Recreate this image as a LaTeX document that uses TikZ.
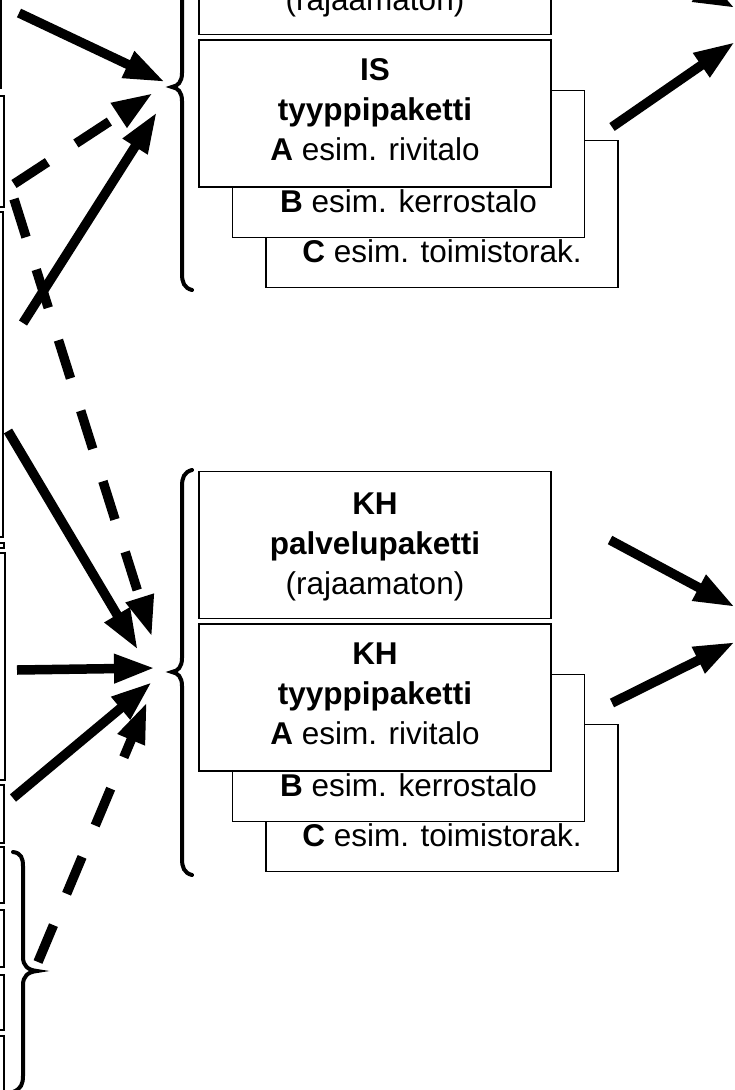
\documentclass[tikz,border=0pt]{standalone}
\usepackage{fontspec}
\setmainfont{Liberation Sans}
\usetikzlibrary{arrows.meta,calc}

\begin{document}
\begin{tikzpicture}[x=1pt,y=-1pt,
  box/.style={draw=black, line width=1.6pt, fill=white, minimum width=352pt,
    minimum height=147pt, inner sep=0pt, align=center,
    font=\fontsize{31.5}{40}\selectfont},
  typebox/.style={box, text depth=7.5pt},
  servbox/.style={box, text depth=2pt},
  lbl/.style={anchor=base, inner sep=0pt, font=\fontsize{31.5}{40}\selectfont},
  stub/.style={draw=black, line width=1.4pt},
  arr/.style={line width=9.5pt, -{Triangle[length=41pt,width=27pt]}},
  darr/.style={arr, dash pattern=on 40pt off 34pt},
  bracepath/.style={line width=4pt, line cap=round},
  lbrace/.pic={\draw[bracepath] (10,-202) .. controls (2,-200) and (0,-194) .. (0,-186)
      -- (0,-14) .. controls (0,-5) and (-4,-1) .. (-10,0)
      .. controls (-4,1) and (0,5) .. (0,14)
      -- (0,187) .. controls (0,195) and (2,201) .. (10,203);},
  rbrace/.pic={\draw[bracepath] (-10,-119) .. controls (-2,-118) and (0,-113) .. (0,-105)
      -- (0,-14) .. controls (0,-5) and (5,-1) .. (14,0)
      .. controls (5,1) and (0,5) .. (0,14)
      -- (0,105) .. controls (0,113) and (-2,118) .. (-10,121);}
]
\useasboundingbox (0,0) rectangle (735,1090);
\clip (0,0) rectangle (735,1090);

% boxes at the left edge
\draw[stub] (-60,-20) rectangle (1,88);
\draw[stub] (-60,96) rectangle (4,207);
\draw[stub] (-60,212) rectangle (3,537);
\draw[stub] (-60,543) rectangle (4,548);
\draw[stub] (-60,553) rectangle (5,780);
\draw[stub] (-60,785) rectangle (4,843);
\draw[stub] (-60,847) rectangle (4,903);
\draw[stub] (-60,910) rectangle (4,967);
\draw[stub] (-60,975) rectangle (4,1030);
\draw[stub] (-60,1036) rectangle (4,1120);

% IS packages
\node[servbox] (isP) at (375,-39) {\textbf{IS}\\\textbf{palvelupaketti}\\(rajaamaton)};
\node[box] (isC) at (442,214) {};
\node[lbl] (isCt) at ($(isC.south)+(0,-25.5)$) {\textbf{C} esim. toimistorak.};
\node[box] (isB) at (408.5,164) {};
\node[lbl] (isBt) at ($(isB.south)+(0,-26)$) {\textbf{B} esim. kerrostalo};
\node[typebox] (isA) at (375,113.5) {\textbf{IS}\\\textbf{tyyppipaketti}\\\textbf{A} esim. rivitalo};

% KH packages
\node[servbox] (khP) at (375,545) {\textbf{KH}\\\textbf{palvelupaketti}\\(rajaamaton)};
\node[box] (khC) at (442,798) {};
\node[lbl] (khCt) at ($(khC.south)+(0,-25.5)$) {\textbf{C} esim. toimistorak.};
\node[box] (khB) at (408.5,748) {};
\node[lbl] (khBt) at ($(khB.south)+(0,-26)$) {\textbf{B} esim. kerrostalo};
\node[typebox] (khA) at (375,697.5) {\textbf{KH}\\\textbf{tyyppipaketti}\\\textbf{A} esim. rivitalo};

% braces
\pic at (182,87) {lbrace};
\pic at (182,672) {lbrace};
\pic at (23,971) {rbrace};

% connector ends
\coordinate (s1) at (19,13);   \coordinate (t1) at (165,82);
\coordinate (s2) at (14,184);  \coordinate (t2) at (153,93);
\coordinate (s3) at (14,199);  \coordinate (t3) at (152,637);
\coordinate (s4) at (23,323);  \coordinate (t4) at (157,112);
\coordinate (s5) at (8,431);   \coordinate (t5) at (138,650);
\coordinate (s6) at (17,670);  \coordinate (t6) at (155,668);
\coordinate (s7) at (13,798);  \coordinate (t7) at (152,682);
\coordinate (s8) at (38,962);  \coordinate (t8) at (147,702);
\coordinate (r1) at (610,-59); \coordinate (u1) at (735,8);
\coordinate (r2) at (612,127); \coordinate (u2) at (735,42);
\coordinate (r3) at (610,540); \coordinate (u3) at (735,607);
\coordinate (r4) at (612,703); \coordinate (u4) at (735,642);

% incoming arrows
\draw[arr] (s1) -- (t1);
\draw[darr] (s2) -- (t2);
\draw[darr] (s3) -- (t3);
\draw[arr] (s4) -- (t4);
\draw[arr] (s5) -- (t5);
\draw[arr] (s6) -- (t6);
\draw[arr] (s7) -- (t7);
\draw[darr] (s8) -- (t8);

% outgoing arrows
\draw[arr] (r1) -- (u1);
\draw[arr] (r2) -- (u2);
\draw[arr] (r3) -- (u3);
\draw[arr] (r4) -- (u4);
\end{tikzpicture}
\end{document}
